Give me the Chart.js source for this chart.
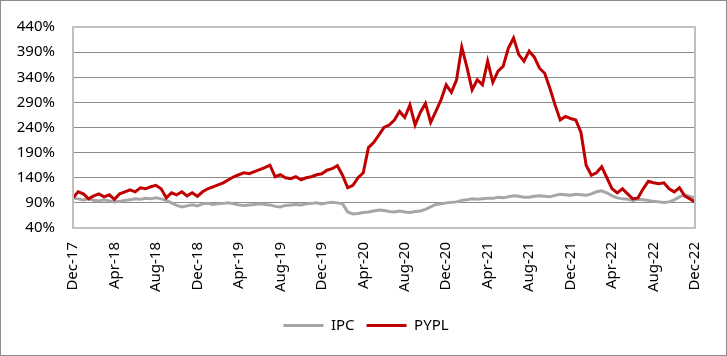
<!DOCTYPE html>
<html>
<head>
<meta charset="utf-8">
<script src="https://cdn.jsdelivr.net/npm/chart.js@4/dist/chart.umd.min.js"></script>
<style>
html,body{margin:0;padding:0;background:#fff;}
#wrap{width:727px;height:356px;position:relative;}
</style>
</head>
<body>
<div id="wrap"><canvas id="c" width="727" height="356"></canvas></div>
<script>
// Semi-monthly observations from Dec-17 to Dec-22 (121 points)
const monthNames = ["Jan","Feb","Mar","Apr","May","Jun","Jul","Aug","Sep","Oct","Nov","Dec"];
const categories = [];
for (let i = 0; i <= 120; i++) {
  const m = (11 + Math.floor(i / 2)) % 12;
  const y = 17 + Math.floor((11 + Math.floor(i / 2)) / 12);
  categories.push(monthNames[m] + "-" + y);
}
// Tick labels shown every 4 months
const tickLabels = ["Dec-17","Apr-18","Aug-18","Dec-18","Apr-19","Aug-19","Dec-19","Apr-20","Aug-20","Dec-20","Apr-21","Aug-21","Dec-21","Apr-22","Aug-22","Dec-22"];

const ipc = [100,98,96,98,95,94,96,94,92,93,95,96,98,97,99,98,
  100,98,95,90,85,82,84,86,84,88,89,87,88,89,90,88,
  86,85,86,87,88,87,86,83,82,85,86,87,86,88,89,90,
  88,90,91,90,88,72,68,69,71,72,74,76,75,73,72,74,
  72,71,73,74,77,82,87,88,90,91,92,95,96,98,97,98,
  99,99,101,100,102,104,103,101,101,103,104,103,102,105,107,106,
  105,107,106,105,108,112,114,110,104,100,98,97,95,97,96,95,
  93,92,91,92,96,102,106,103,100];

const pypl = [100,112,108,98,104,108,102,106,97,108,112,116,112,120,118,122,
  125,118,100,110,106,112,104,110,103,112,118,122,126,130,136,142,
  146,150,148,152,156,160,165,142,146,140,138,142,136,140,142,146,
  148,155,158,164,145,120,125,140,150,200,210,225,240,245,255,272,
  260,285,245,270,288,250,272,295,325,310,335,400,360,315,335,325,
  372,330,352,362,398,418,385,372,392,380,358,348,318,285,255,262,
  258,255,230,165,145,150,162,140,118,110,118,108,98,100,118,133,
  130,128,130,118,112,120,104,98,92];

const yTicks = [40,90,140,190,240,290,340,390,440];

const framePlugin = {
  id: 'frame',
  afterLayout(chart) {
    const lg = chart.legend;
    if (lg) {
      const w = lg.right - lg.left;
      const c = 366;
      lg.left = c - w / 2;
      lg.right = c + w / 2;
    }
  },
  afterDatasetsDraw(chart) {
    const {ctx, chartArea: a} = chart;
    ctx.save();
    ctx.strokeStyle = '#BFBFBF';
    ctx.lineWidth = 2;
    ctx.strokeRect(a.left, a.top, a.right - a.left, a.bottom - a.top);
    ctx.restore();
  },
  afterDraw(chart) {
    const ctx = chart.ctx;
    ctx.save();
    ctx.strokeStyle = '#8C8C8C';
    ctx.lineWidth = 1;
    ctx.strokeRect(0.5, 0.5, chart.width - 1, chart.height - 1);
    ctx.restore();
  }
};

new Chart(document.getElementById('c'), {
  type: 'line',
  data: {
    labels: categories,
    datasets: [
      {label: 'IPC', data: ipc, borderColor: '#A6A6A6', backgroundColor: '#A6A6A6', borderWidth: 3, pointRadius: 0, tension: 0, order: 1},
      {label: 'PYPL', data: pypl, borderColor: '#C00000', backgroundColor: '#C00000', borderWidth: 3, pointRadius: 0, tension: 0, order: 0}
    ]
  },
  options: {
    responsive: false,
    animation: false,
    layout: {padding: {top: 19, right: 18, bottom: 13, left: 0}},
    plugins: {
      legend: {
        position: 'bottom',
        labels: {
          usePointStyle: true,
          pointStyle: 'line',
          pointStyleWidth: 40,
          boxHeight: 15,
          padding: 12,
          color: '#000',
          font: {family: 'Noto Sans', size: 15},
          sort: function(a, b) { return a.datasetIndex - b.datasetIndex; }
        }
      },
      tooltip: {enabled: false}
    },
    scales: {
      x: {
        type: 'category',
        grid: {display: false, drawTicks: false},
        border: {display: false},
        ticks: {
          autoSkip: false,
          maxRotation: 90,
          minRotation: 90,
          padding: 14,
          color: '#000',
          font: {family: 'Noto Sans', size: 15},
          callback: function(v, i) { return i % 8 === 0 ? tickLabels[i / 8] : ''; }
        },
        afterFit: function(s) { s.height = 78; }
      },
      y: {
        min: 40, max: 440,
        afterBuildTicks: function(s) { s.ticks = yTicks.map(v => ({value: v})); },
        grid: {
          drawTicks: false,
          color: function(c) { return (c.tick && (c.tick.value === 40 || c.tick.value === 440)) ? 'rgba(0,0,0,0)' : '#8C8C8C'; },
          lineWidth: 1
        },
        border: {display: false},
        ticks: {
          padding: 18,
          color: '#000',
          font: {family: 'Noto Sans', size: 15},
          callback: function(v) { return v + '%'; }
        },
        afterFit: function(s) { s.width = 73; }
      }
    }
  },
  plugins: [framePlugin]
});
</script>
</body>
</html>
